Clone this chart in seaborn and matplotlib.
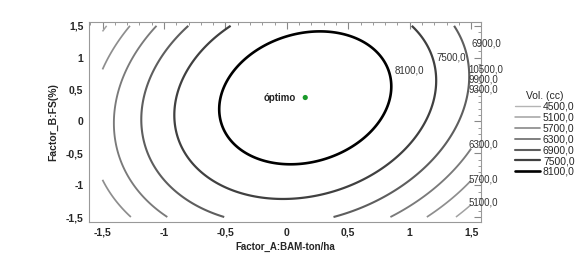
import numpy as np
import matplotlib
matplotlib.use('Agg')
import matplotlib.pyplot as plt
import seaborn as sns
from matplotlib.lines import Line2D
from matplotlib.ticker import MultipleLocator, FuncFormatter

sns.set_theme(style='white')
plt.rcParams['font.family'] = ['Liberation Sans', 'DejaVu Sans']

# superficie de respuesta cuadratica (forma canonica)
vol_max = 8556.0
opt_a = 0.15
opt_b = 0.37
coef_aa = 958.0
coef_bb = 432.0
coef_ab = 220.0

levels = [4500, 5100, 5700, 6300, 6900, 7500, 8100]
level_colors = ['#b4b4b4', '#a2a2a2', '#8e8e8e', '#7a7a7a', '#5e5e5e', '#404040', '#000000']
level_widths = [1.0, 1.1, 1.25, 1.35, 1.5, 1.6, 1.9]

optimo_a = [0.15]
optimo_b = [0.375]

contour_texts = ['6900,0', '7500,0', '8100,0', '10500,0', '9900,0', '9300,0', '6300,0', '5700,0', '5100,0']
text_x = [1.50, 1.22, 0.88, 1.48, 1.48, 1.48, 1.48, 1.48, 1.48]
text_y = [1.23, 1.01, 0.80, 0.82, 0.65, 0.505, -0.37, -0.91, -1.27]

design_lim = (-1.5, 1.5)
xlim = (-1.61, 1.58)
ylim = (-1.58, 1.56)

A, B = np.meshgrid(np.linspace(*design_lim, 300), np.linspace(*design_lim, 300))
dA = A - opt_a
dB = B - opt_b
vol = vol_max - coef_aa * dA**2 - coef_bb * dB**2 + coef_ab * dA * dB

fig = plt.figure(figsize=(5.76, 2.61), dpi=100)
ax = fig.add_axes([0.1545, 0.149, 0.835 - 0.1545, 0.9157 - 0.149])

ax.contour(A, B, vol, levels=levels, colors=level_colors, linewidths=level_widths)

sns.scatterplot(x=optimo_a, y=optimo_b, color='#1a9a2a', s=14, edgecolor='none', ax=ax, zorder=5)
ax.annotate('óptimo', (optimo_a[0], optimo_b[0]), xytext=(-7, 0), textcoords='offset points',
            ha='right', va='center', fontsize=7, fontweight='bold', color='#222222')

for t, x, y in zip(contour_texts, text_x, text_y):
    ax.text(x, y, t, fontsize=7, color='#333333', ha='left', va='center', clip_on=False)

ax.set_xlim(xlim)
ax.set_ylim(ylim)
ax.xaxis.set_major_locator(MultipleLocator(0.5))
ax.yaxis.set_major_locator(MultipleLocator(0.5))
ax.xaxis.set_minor_locator(MultipleLocator(0.1))
ax.yaxis.set_minor_locator(MultipleLocator(0.1))
fmt = FuncFormatter(lambda v, p: ('%g' % round(v, 2)).replace('.', ','))
ax.xaxis.set_major_formatter(fmt)
ax.yaxis.set_major_formatter(fmt)
ax.tick_params(which='both', direction='in', top=True, right=True, color='#888888')
ax.tick_params(which='major', length=5, width=0.8, labelsize=7.5, pad=4)
ax.tick_params(which='minor', length=2.5, width=0.6)
for lab in ax.get_xticklabels() + ax.get_yticklabels():
    lab.set_fontweight('bold')
for s in ax.spines.values():
    s.set_color('#999999')
    s.set_linewidth(0.8)

ax.set_xlabel('Factor_A:BAM-ton/ha', fontsize=7, fontweight='bold', labelpad=3)
ax.set_ylabel('Factor_B:FS(%)', fontsize=7.5, fontweight='bold', labelpad=5)

handles = [Line2D([0], [0], color=c, lw=w) for c, w in zip(level_colors, level_widths)]
labels = [f'{v},0' for v in levels]
leg = fig.legend(handles, labels, title='Vol. (cc)', loc='upper left', bbox_to_anchor=(0.892, 0.655),
                 frameon=False, fontsize=7.5, title_fontsize=7.5, handlelength=2.4, handletextpad=0.3,
                 labelspacing=0.08, borderpad=0.1, borderaxespad=0.0)

fig.savefig('out.png', dpi=100)
